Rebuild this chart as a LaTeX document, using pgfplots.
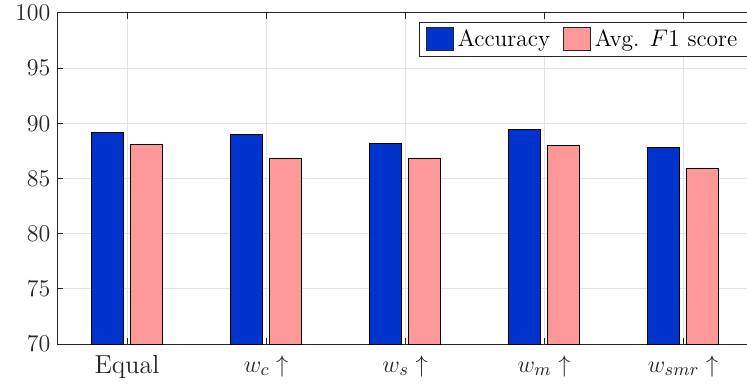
\documentclass[border=0pt]{standalone}
\usepackage{pgfplots}
\pgfplotsset{compat=1.18}
\definecolor{accblue}{RGB}{0,51,204}
\definecolor{f1pink}{RGB}{255,153,153}
\definecolor{axgray}{RGB}{38,38,38}
\definecolor{gridgray}{RGB}{226,226,226}
\begin{document}
\begin{tikzpicture}
\begin{axis}[
  name=ax,
  at={(0,0)}, anchor=south west,
  scale only axis, width=347.5pt, height=165.5pt,
  xmin=-0.5, xmax=4.5, ymin=70, ymax=100,
  ytick={70,75,...,100},
  xtick={0,1,2,3,4},
  xticklabels={Equal,$w_c\uparrow$,$w_s\uparrow$,$w_m\uparrow$,$w_{smr}\uparrow$},
  ybar=3.5pt, bar width=16pt,
  font=\fontsize{13}{15}\selectfont,
  tick label style={font=\fontsize{13}{15}\selectfont, text=axgray},
  xticklabel style={yshift=-2.2pt},
  axis line style={axgray, line width=0.5pt},
  tick style={axgray, line width=0.5pt},
  tick align=inside,
  major tick length=3pt,
  xtick pos=both, ytick pos=both,
  grid=major,
  major grid style={gridgray, line width=0.5pt},
  legend columns=-1,
  legend style={at={(0.9945,0.973)}, anchor=north east, draw=axgray, fill=white,
    font=\fontsize{11.7}{13.5}\selectfont, inner xsep=3.5pt, inner ysep=1.5pt,
    /tikz/every even column/.append style={column sep=4.5pt}},
  legend image code/.code={\draw[#1, draw=axgray] (0pt,-5.75pt) rectangle (13.5pt,5.75pt);},
]
\addplot[fill=accblue, draw=black, line width=0.4pt] coordinates {(0,89.15) (1,89.0) (2,88.15) (3,89.45) (4,87.8)};
\addplot[fill=f1pink, draw=black, line width=0.4pt] coordinates {(0,88.1) (1,86.85) (2,86.8) (3,88.0) (4,85.95)};
\legend{Accuracy, Avg. $F1$ score}
\end{axis}
\pgfresetboundingbox
\path ([xshift=-28.75pt,yshift=-23pt]ax.south west) rectangle ([xshift=-2.75pt,yshift=6.5pt]ax.north east);
\end{tikzpicture}
\end{document}
